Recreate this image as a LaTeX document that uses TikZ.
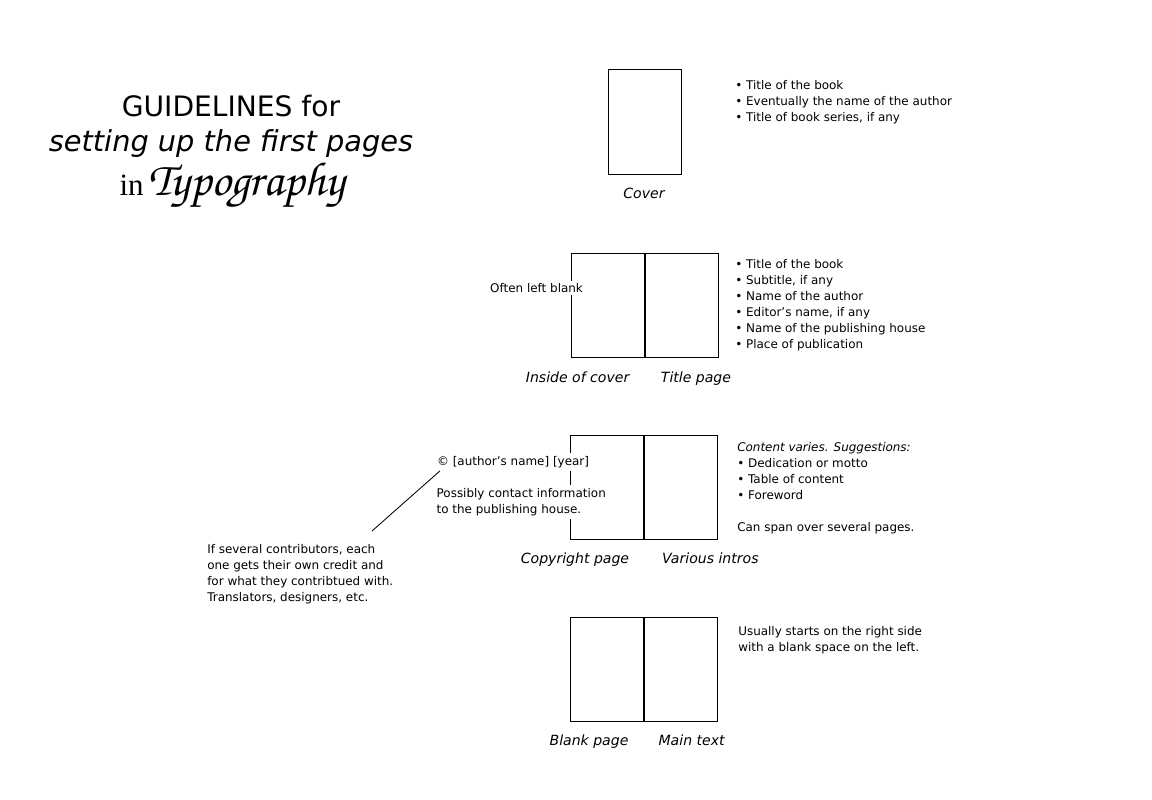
\documentclass[tikz,border=0pt]{standalone}
\usepackage{fontspec}
\setmainfont{DejaVu Sans}
\newfontfamily\serifin{Liberation Serif}
\newfontfamily\chorusfont{texgyrechorus-mediumitalic.otf}
\usetikzlibrary{positioning}

\begin{document}
\begin{tikzpicture}[
  titletext/.style={anchor=base, font=\fontsize{20pt}{24pt}\selectfont},
  notetext/.style={font=\fontsize{8.5pt}{11.4pt}\selectfont, align=left, inner sep=0pt},
  whitenote/.style={notetext, fill=white, inner sep=2pt},
  pagebox/.style={draw, line width=0.7pt, minimum width=1.825cm, minimum height=2.6cm,
    inner sep=0pt, outer sep=0pt},
  pagelabel/.style={anchor=base, font=\fontsize{10pt}{12pt}\selectfont\itshape},
  leader/.style={line width=0.6pt}
]
\useasboundingbox (0,0) rectangle (28.8,20);
\node[titletext] (title1) at (5.775,17.075) {GUIDELINES for};
\node[titletext] (title2) at (5.775,16.2)
  {\fontsize{20.5pt}{24pt}\selectfont\itshape setting up the first pages};
\node[titletext] (title3) at (5.8,15.1)
  {{\serifin\fontsize{22pt}{24pt}\selectfont in}\,{\chorusfont\fontsize{34pt}{36pt}\selectfont Typography}};

% cover
\node[pagebox] (cover) at (16.135,16.95) {};
\node[pagelabel] (coverlbl) at (16.1,15.025) {Cover};
\node[notetext, anchor=north west] (coverlist) at (18.375,18.0)
  {\textbullet\ Title of the book\\
   \textbullet\ Eventually the name of the author\\
   \textbullet\ Title of book series, if any};

% inside of cover + title page
% the spread's two pages sit a hair apart, so the fold reads as a double line
\node[pagebox] (inside) at (15.1875,12.375) {};
\node[pagebox, right=0.9pt of inside] (titlep) {};
\node[whitenote, anchor=east] (blanknote) at (14.65,12.8) {Often left blank};
\node[pagelabel] (insidelbl) at (14.44,10.425) {Inside of cover};
\node[pagelabel] (titlelbl) at (17.4,10.425) {Title page};
\node[notetext, anchor=north west] (titlelist) at (18.375,13.525)
  {\textbullet\ Title of the book\\
   \textbullet\ Subtitle, if any\\
   \textbullet\ Name of the author\\
   \textbullet\ Editor’s name, if any\\
   \textbullet\ Name of the publishing house\\
   \textbullet\ Place of publication};

% copyright page + intros
\node[pagebox] (copyp) at (15.1625,7.825) {};
\node[pagebox, right=0.9pt of copyp] (intros) {};
\node[whitenote, anchor=west] (copynote) at (10.85,8.45) {© [author’s name] [year]};
\node[whitenote, anchor=west] (contact) at (10.84,7.45)
  {Possibly contact information\\to the publishing house.};
\node[pagelabel] (copylbl) at (14.375,5.9) {Copyright page};
\node[pagelabel] (introslbl) at (17.76,5.9) {Various intros};
\node[notetext, anchor=north west] (introlist) at (18.425,8.95)
  {\textit{Content varies. Suggestions:}\\
   \textbullet\ Dedication or motto\\
   \textbullet\ Table of content\\
   \textbullet\ Foreword\\[11.4pt]
   Can span over several pages.};
\node[notetext, anchor=north west] (credits) at (5.175,6.4)
  {If several contributors, each\\
   one gets their own credit and\\
   for what they contribtued with.\\
   Translators, designers, etc.};
\coordinate (tip) at (9.3,6.725);
\draw[leader] ([xshift=0.15cm]copynote.south west) -- (tip);

% blank page + main text
\node[pagebox] (blankp) at (15.1625,3.275) {};
\node[pagebox, right=0.9pt of blankp] (maintext) {};
\node[pagelabel] (blanklbl) at (14.725,1.35) {Blank page};
\node[pagelabel] (mainlbl) at (17.29,1.35) {Main text};
\node[notetext, anchor=north west] (mainnote) at (18.45,4.35)
  {Usually starts on the right side\\with a blank space on the left.};
\end{tikzpicture}
\end{document}
